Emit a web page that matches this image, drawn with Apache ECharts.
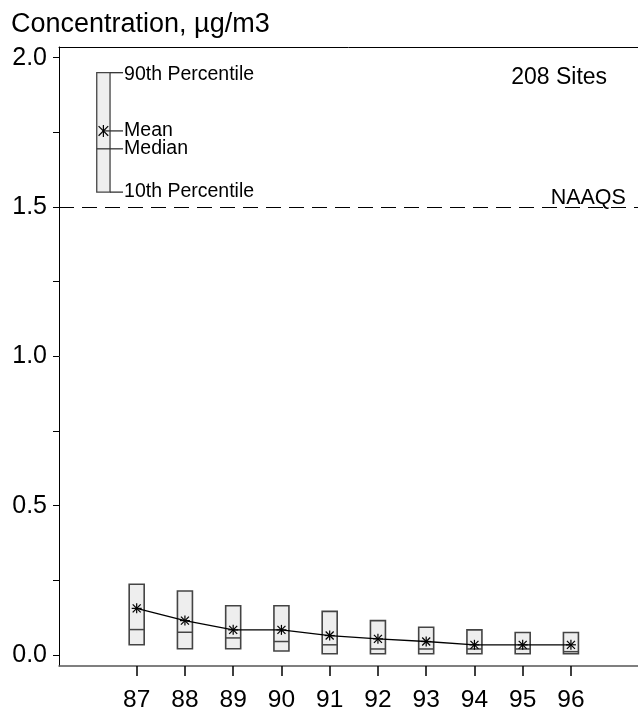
<!DOCTYPE html>
<html><head><meta charset="utf-8">
<script src="https://cdn.jsdelivr.net/npm/echarts@6/dist/echarts.min.js"></script>
<style>html,body{margin:0;padding:0;background:#fff}#c{width:638px;height:709px}</style>
</head><body><div id="c"></div>
<script>
// ---- data ----
const years  = [87, 88, 89, 90, 91, 92, 93, 94, 95, 96];
const p90    = [0.237, 0.214, 0.165, 0.165, 0.146, 0.115, 0.093, 0.084, 0.075, 0.075];
const p10    = [0.034, 0.021, 0.021, 0.013, 0.004, 0.004, 0.004, 0.004, 0.004, 0.004];
const median = [0.085, 0.076, 0.057, 0.045, 0.034, 0.020, 0.020, 0.020, 0.020, 0.011];
const mean   = [0.156, 0.115, 0.084, 0.084, 0.065, 0.054, 0.045, 0.034, 0.034, 0.034];
const yTickValues  = [0, 0.25, 0.5, 0.75, 1.0, 1.25, 1.5, 1.75, 2.0];
const yLabelValues = [0, 0.5, 1.0, 1.5, 2.0];
const naaqs = 1.5;
const legendValues = [1.95, 1.755, 1.695, 1.55];   // 90th, mean, median, 10th
const legendLabels = ['90th Percentile', 'Mean', 'Median', '10th Percentile'];
const titleText = 'Concentration, \u00b5g/m3';
const sitesText = '208 Sites';
const naaqsText = 'NAAQS';

// ---- chart ----
const FONT = '"Liberation Sans", Arial, sans-serif';
const chart = echarts.init(document.getElementById('c'));
const boxData = years.map((y, i) => [y, p10[i], p90[i], median[i], mean[i]]);
const meanData = years.map((y, i) => [y, mean[i]]);
const X_MIN = 85.39, X_MAX = 97.39, Y_MIN = -0.037, Y_MAX = 2.036;

function starLines(cx, cy, r, withH) {
  const s = {stroke: '#000', lineWidth: 1.2};
  const d = r * 0.8;
  const arr = [
    {type: 'line', shape: {x1: cx, y1: cy - r, x2: cx, y2: cy + r}, style: s},
    {type: 'line', shape: {x1: cx - d, y1: cy - d, x2: cx + d, y2: cy + d}, style: s},
    {type: 'line', shape: {x1: cx - d, y1: cy + d, x2: cx + d, y2: cy - d}, style: s}
  ];
  if (withH) arr.push({type: 'line', shape: {x1: cx - r, y1: cy, x2: cx + r, y2: cy}, style: s});
  return arr;
}

function renderBox(params, api) {
  const x = api.value(0);
  const top = api.coord([x, api.value(2)]);
  const bot = api.coord([x, api.value(1)]);
  const med = api.coord([x, api.value(3)]);
  const w = 15;
  return {type: 'group', children: [
    {type: 'rect', shape: {x: top[0] - w / 2, y: top[1], width: w, height: bot[1] - top[1]},
     style: {fill: '#eeeeee', stroke: '#444', lineWidth: 1.6}},
    {type: 'line', shape: {x1: top[0] - w / 2, y1: med[1], x2: top[0] + w / 2, y2: med[1]},
     style: {stroke: '#444', lineWidth: 1.5}}
  ]};
}

function renderStar(params, api) {
  const p = api.coord([api.value(0), api.value(4)]);
  return {type: 'group', children: starLines(p[0], p[1], 5, true)};
}

function renderAnno(params, api) {
  const lx = 86.31;
  const c90 = api.coord([lx, legendValues[0]]);
  const cMean = api.coord([lx, legendValues[1]]);
  const cMed = api.coord([lx, legendValues[2]]);
  const c10 = api.coord([lx, legendValues[3]]);
  const w = 13.3;
  const xr = c90[0] + w / 2;
  const xe = xr + 13;
  const ln = {stroke: '#333', lineWidth: 1.3};
  const tx = (t, y) => ({type: 'text', x: xe + 1, y: y,
    style: {text: t, fill: '#000', font: '19.5px ' + FONT, align: 'left', verticalAlign: 'middle'}});
  const children = [
    {type: 'rect', shape: {x: c90[0] - w / 2, y: c90[1], width: w, height: c10[1] - c90[1]},
     style: {fill: '#eeeeee', stroke: '#444', lineWidth: 1.3}},
    {type: 'line', shape: {x1: c90[0] - w / 2, y1: cMed[1], x2: xe, y2: cMed[1]}, style: ln},
    {type: 'line', shape: {x1: xr, y1: c90[1], x2: xe, y2: c90[1]}, style: ln},
    {type: 'line', shape: {x1: xr, y1: c10[1], x2: xe, y2: c10[1]}, style: ln},
    {type: 'line', shape: {x1: c90[0], y1: cMean[1], x2: xe, y2: cMean[1]}, style: ln},
    tx(legendLabels[0], c90[1] + 2),
    tx(legendLabels[1], cMean[1]),
    tx(legendLabels[2], cMed[1]),
    tx(legendLabels[3], c10[1])
  ].concat(starLines(c90[0], cMean[1], 6, false));
  const np = api.coord([97.14, naaqs]);
  children.push({type: 'text', x: np[0], y: np[1] + 2,
    style: {text: naaqsText, fill: '#000', font: '21.5px ' + FONT, align: 'right', verticalAlign: 'bottom'}});
  const sp = api.coord([96.75, 1.932]);
  children.push({type: 'text', x: sp[0], y: sp[1],
    style: {text: sitesText, fill: '#000', font: '23px ' + FONT, align: 'right', verticalAlign: 'middle'}});
  return {type: 'group', children: children};
}

const option = {
  animation: false,
  backgroundColor: '#fff',
  graphic: [{type: 'text', x: 11, y: 25,
    style: {text: titleText, fill: '#000', font: '27px ' + FONT, verticalAlign: 'middle'}}],
  grid: {left: 59, right: 0, top: 47, bottom: 43, containLabel: false, outerBoundsMode: 'none'},
  xAxis: [{
    type: 'value', min: X_MIN, max: X_MAX, position: 'bottom',
    axisLine: {show: true, onZero: false, lineStyle: {color: '#555', width: 1.5}},
    axisTick: {show: true, customValues: years, length: 10, lineStyle: {color: '#000', width: 1.5}},
    axisLabel: {customValues: years, margin: 22, fontSize: 24.5, fontFamily: FONT, color: '#000',
      formatter: v => String(v)},
    splitLine: {show: false}
  }, {
    type: 'value', min: X_MIN, max: X_MAX, position: 'top',
    axisLine: {show: true, onZero: false, lineStyle: {color: '#000', width: 1}},
    axisTick: {show: false}, axisLabel: {show: false}, splitLine: {show: false}
  }],
  yAxis: {
    type: 'value', min: Y_MIN, max: Y_MAX,
    axisLine: {show: true, onZero: false, lineStyle: {color: '#000', width: 1}},
    axisTick: {show: true, customValues: yTickValues, length: 6, lineStyle: {color: '#000'}},
    axisLabel: {customValues: yLabelValues, margin: 12, fontSize: 25, fontFamily: FONT, color: '#000',
      formatter: v => v.toFixed(1)},
    splitLine: {show: false}
  },
  series: [
    {type: 'custom', renderItem: renderBox, data: boxData, z: 2, encode: {x: 0, y: [1, 2]}},
    {type: 'line', data: meanData, symbol: 'none', z: 3,
      lineStyle: {color: '#000', width: 1.3},
      markLine: {silent: true, symbol: 'none', label: {show: false},
        lineStyle: {color: '#000', width: 1, type: [15, 8]},
        data: [{yAxis: naaqs}]}},
    {type: 'custom', renderItem: renderStar, data: boxData, z: 4, encode: {x: 0, y: 4}},
    {type: 'custom', renderItem: renderAnno, data: [[90, 1.7]], z: 5, encode: {x: 0, y: 1}}
  ]
};
chart.setOption(option);
</script>
</body></html>
